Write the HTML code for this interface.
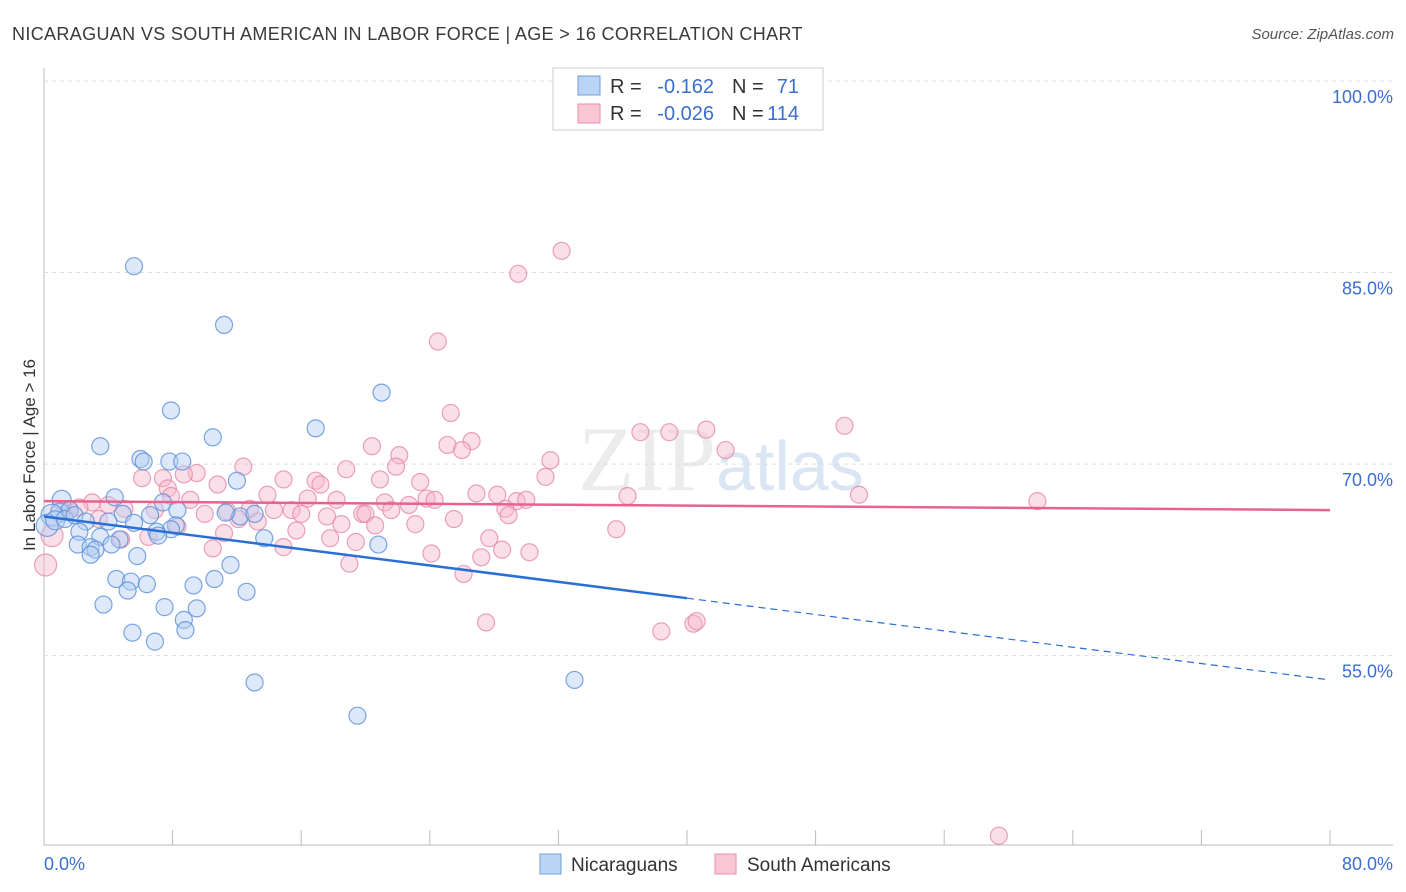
<!DOCTYPE html>
<html><head><meta charset="utf-8"><style>
body{margin:0;background:#fff;font-family:"Liberation Sans",sans-serif;}
svg{display:block}
</style></head><body>
<svg id="c" width="1406" height="892">
<text x="12" y="40" font-size="18" letter-spacing="0.35" fill="#3a3a3a">NICARAGUAN VS SOUTH AMERICAN IN LABOR FORCE | AGE &gt; 16 CORRELATION CHART</text>
<text x="1394" y="39" font-size="15" fill="#555" text-anchor="end" font-style="italic">Source: ZipAtlas.com</text>
<text x="35" y="455" font-size="17" fill="#333" text-anchor="middle" transform="rotate(-90 35 455)">In Labor Force | Age &gt; 16</text>
<text x="716" y="490" font-size="92" fill="#ececec" text-anchor="end" font-family="Liberation Serif">ZIP</text>
<text x="716" y="490" font-size="70" fill="#dbe6f4">atlas</text>
<g id="grid"></g><g id="pts"></g><g id="lines"></g>
<g>
<rect x="553" y="68" width="270" height="62" fill="#fff" stroke="#ccc"/>
<rect x="578" y="76" width="22" height="19" fill="#b9d4f5" stroke="#6f9fd8"/>
<rect x="578" y="104" width="22" height="19" fill="#f9c6d4" stroke="#e98fab"/>
<text x="610" y="93" font-size="20" fill="#333">R =</text>
<text x="714" y="93" font-size="20" fill="#3a6fd0" text-anchor="end">-0.162</text>
<text x="732" y="93" font-size="20" fill="#333">N =</text>
<text x="799" y="93" font-size="20" fill="#3a6fd0" text-anchor="end">71</text>
<text x="610" y="120" font-size="20" fill="#333">R =</text>
<text x="714" y="120" font-size="20" fill="#3a6fd0" text-anchor="end">-0.026</text>
<text x="732" y="120" font-size="20" fill="#333">N =</text>
<text x="799" y="120" font-size="20" fill="#3a6fd0" text-anchor="end">114</text>
</g>
<g>
<rect x="540" y="854" width="21" height="20" fill="#b9d4f5" stroke="#6f9fd8"/>
<text x="571" y="871" font-size="19" fill="#333">Nicaraguans</text>
<rect x="715" y="854" width="21" height="20" fill="#f9c6d4" stroke="#e98fab"/>
<text x="747" y="871" font-size="19" fill="#333">South Americans</text>
</g>
</svg>
<script>
const yTicks=[100,85,70,55];
const xTickLabels=["0.0%","80.0%"];
const blueX=[5.6,11.2,21.0,7.9,16.9,10.5,3.5,6.0,6.2,7.8,8.6,12.0,4.4,1.1,7.4,8.3,6.6,4.9,12.2,13.1,1.0,1.6,0.5,0.2,0.7,1.3,1.9,2.6,4.0,8.2,7.9,7.0,7.1,2.2,3.5,4.7,13.7,20.8,2.1,2.9,3.2,4.2,2.9,5.8,11.6,4.5,5.4,6.4,5.2,9.3,10.6,12.6,3.7,7.5,9.5,8.7,8.8,5.5,6.9,13.1,19.5,33.0,11.3,5.6];
const blueY=[85.5,80.9,75.6,74.2,72.8,72.1,71.4,70.4,70.2,70.2,70.2,68.7,67.4,67.2,67.0,66.4,66.0,66.1,65.9,66.1,66.2,66.4,66.0,65.2,65.6,65.7,66.0,65.5,65.5,65.2,64.9,64.7,64.4,64.7,64.3,64.1,64.2,63.7,63.7,63.5,63.3,63.7,62.9,62.8,62.1,61.0,60.8,60.6,60.1,60.5,61.0,60.0,59.0,58.8,58.7,57.8,57.0,56.8,56.1,52.9,50.3,53.1,66.2,65.4];
const pinkX=[32.2,29.5,24.5,25.3,49.8,41.2,37.1,38.9,26.6,25.1,20.4,26.0,42.4,22.1,31.5,12.4,18.8,21.9,9.5,8.7,7.4,6.1,14.9,16.9,17.2,20.9,23.4,31.2,10.8,7.7,13.9,16.4,18.2,9.1,7.9,26.9,28.2,36.3,50.7,61.8,23.8,24.3,29.4,30.0,21.2,22.7,3.0,4.0,5.0,1.6,2.2,6.9,10.0,11.4,12.8,14.3,15.4,16.0,17.6,19.8,20.0,21.6,25.5,28.7,28.9,12.1,13.3,18.5,20.6,23.1,15.7,11.2,6.5,8.3,35.6,4.8,17.8,19.4,27.7,14.9,10.5,24.1,28.5,30.2,27.2,19.0,26.1,0.5,0.1,27.5,38.4,40.4,40.6,59.4,1.0,3.4];
const pinkY=[86.7,84.9,79.6,74.0,73.0,72.7,72.5,72.5,71.8,71.5,71.4,71.1,71.1,70.7,70.3,69.8,69.6,69.8,69.3,69.2,68.9,68.9,68.8,68.7,68.4,68.8,68.6,69.0,68.4,68.1,67.6,67.3,67.2,67.2,67.5,67.7,67.6,67.5,67.6,67.1,67.3,67.2,67.1,67.2,67.0,66.8,67.0,66.8,66.5,66.4,66.6,66.4,66.1,66.3,66.5,66.4,66.4,66.1,65.9,66.1,66.1,66.4,65.7,66.5,66.0,65.7,65.5,65.3,65.2,65.3,64.8,64.6,64.3,65.1,64.9,64.1,64.2,63.9,64.2,63.5,63.4,63.0,63.3,63.1,62.7,62.2,61.4,64.4,62.1,57.6,56.9,57.5,57.7,40.9,66.4,65.7];
const blueTrend=[65.9,53.1];
const pinkTrend=[67.1,66.4];
const X=v=>44+v*16.075, Y=v=>81+(100-v)*12.77;
const NS="http://www.w3.org/2000/svg";
function mk(t,a,p){const e=document.createElementNS(NS,t);for(const k in a)e.setAttribute(k,a[k]);p.appendChild(e);return e;}
const grid=document.getElementById('grid');
mk('line',{x1:44,y1:68,x2:44,y2:845,stroke:'#bbb'},grid);
mk('line',{x1:44,y1:845,x2:1393,y2:845,stroke:'#bbb'},grid);
yTicks.forEach(t=>{
 const g=mk('line',{x1:44,y1:Y(t),x2:1393,y2:Y(t),stroke:'#ddd','stroke-dasharray':'4,4'},grid);
 
 
 const tx=mk('text',{x:1393,y:Y(t)+22,'font-size':18,fill:'#3a6fd0','text-anchor':'end'},grid);
 tx.textContent=t.toFixed(1)+'%';
 
 
});
for(let i=0;i<=10;i++){mk('line',{x1:X(i*8),y1:830,x2:X(i*8),y2:845,stroke:'#bbb'},grid);}
const xl0=mk('text',{x:44,y:870,'font-size':18,fill:'#3a6fd0'},grid);xl0.textContent=xTickLabels[0];


const xl1=mk('text',{x:1393,y:870,'font-size':18,fill:'#3a6fd0','text-anchor':'end'},grid);xl1.textContent=xTickLabels[1];


const pts=document.getElementById('pts');
function draw(xs,ys,fill,stroke,name){xs.forEach((v,i)=>{
 const r=v<0.6?11:(v<1.2?9.5:8.5);
 const c=mk('circle',{cx:X(v),cy:Y(ys[i]),r:r,fill:fill,'fill-opacity':0.45,stroke:stroke,'stroke-width':1.2,'stroke-opacity':0.8},pts);
 
 
});}
draw(pinkX,pinkY,'#f7b8cb','#e58aa8','south-american-point');
draw(blueX,blueY,'#b3cff2','#5b8fdb','nicaraguan-point');
const L=document.getElementById('lines');
const by=x=>blueTrend[0]+(blueTrend[1]-blueTrend[0])*x/80;
const b1=mk('line',{x1:X(0),y1:Y(by(0)),x2:X(40),y2:Y(by(40)),stroke:'#2a6fd6','stroke-width':2.5},L);


const b2=mk('line',{x1:X(40),y1:Y(by(40)),x2:X(80),y2:Y(by(80)),stroke:'#2a6fd6','stroke-width':1.2,'stroke-dasharray':'7,5'},L);


const p1=mk('line',{x1:X(0),y1:Y(pinkTrend[0]),x2:X(80),y2:Y(pinkTrend[1]),stroke:'#e8628e','stroke-width':2.5},L);


</script>
</body></html>
